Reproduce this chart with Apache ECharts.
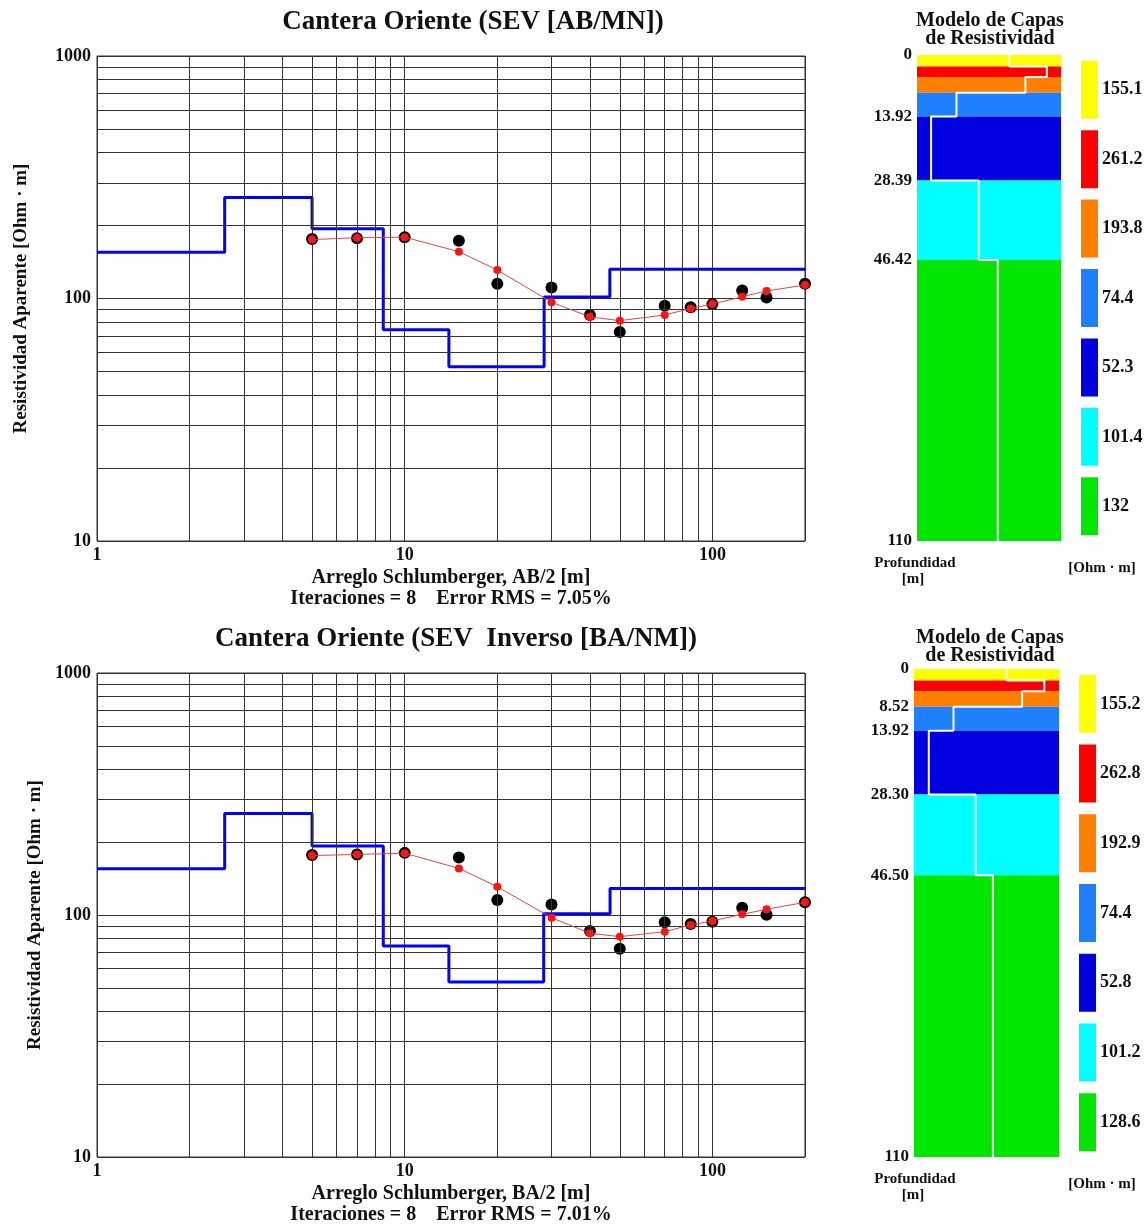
<!DOCTYPE html>
<html>
<head>
<meta charset="utf-8">
<script src="https://cdn.jsdelivr.net/npm/echarts@6/dist/echarts.min.js"></script>
<style>
  html, body { margin: 0; padding: 0; background: #fff; }
  #chart { width: 1146px; height: 1228px; }
</style>
</head>
<body>
<div id="chart"></div>
<script>
// AB/2 (BA/2) spacings [m]
const abHalf = [5, 7, 10, 15, 20, 30, 40, 50, 70, 85, 100, 125, 150, 200]

// apparent resistivity, field (black) and calculated (red)
const obsTop = [176, 177, 179, 173, 115, 111, 85.5, 72.8, 93.4, 92, 94.8, 108, 101, 115]
const calcTop = [175, 178, 179, 156, 131, 96.5, 84, 81, 85.5, 91, 94.8, 101.7, 107.4, 113.7]
const obsBottom = [177, 178, 180.6, 173, 115.3, 110.6, 85.9, 72.6, 93.3, 91.8, 93.8, 107.2, 100.3, 112.8]
const calcBottom = [176, 178, 180, 155.8, 130.8, 97.5, 84, 81.4, 85.3, 91, 94.5, 100.7, 105.6, 112.8]

// layer model
const resTop = [155.1, 261.2, 193.8, 74.4, 52.3, 101.4, 132]
const depthTop = [0, 2.6, 5.0, 8.52, 13.92, 28.39, 46.42, 110]
const resBottom = [155.2, 262.8, 192.9, 74.4, 52.8, 101.2, 128.6]
const depthBottom = [0, 2.6, 5.0, 8.52, 13.92, 28.30, 46.50, 110]
const depthLabelsTop = [0, 13.92, 28.39, 46.42, 110]
const depthLabelsBottom = [0, 8.52, 13.92, 28.30, 46.50, 110]

// minor grid lines of the log-log paper
const gridX = [2, 3, 4, 5, 6, 7, 8, 9, 20, 30, 40, 50, 60, 70, 80, 90]
const gridY = [20, 30, 40, 50, 60, 70, 80, 90, 200, 300, 400, 500, 600, 700, 800, 900]

const layerColors = ['#ffff00', '#ff0000', '#ff7f00', '#1e80ff', '#0000e0', '#00ffff', '#00e600']
const FONT = '"Liberation Serif", "DejaVu Serif", serif'
const INK = '#111'

function isDecade(v) {
  const l = Math.log10(v)
  return Math.abs(l - Math.round(l)) < 1e-6
}

// step curve of the model on the sounding chart
function modelSteps(depths, res, xMin, xMax) {
  const pts = []
  res.forEach((r, i) => {
    const from = i === 0 ? xMin : depths[i]
    const to = i === res.length - 1 ? xMax : depths[i + 1]
    pts.push([from, r], [to, r])
  })
  return pts
}

// white profile inside the layer column
function columnSteps(depths, res) {
  const pts = []
  res.forEach((r, i) => {
    pts.push([r, depths[i]], [r, depths[i + 1]])
  })
  return pts
}

const option = {
  animation: false,
  backgroundColor: '#fff',
  grid: [],
  xAxis: [],
  yAxis: [],
  series: [],
  graphic: []
}

function addPanel(p) {
  // sounding curve
  const g = option.grid.length
  option.grid.push({ left: 97, top: p.top, width: 708, height: p.height, show: true, borderColor: '#333', borderWidth: 1 })
  option.xAxis.push({
    type: 'log', logBase: 10, gridIndex: g, min: 1, max: 200,
    name: p.xName, nameLocation: 'middle', nameGap: 26,
    nameTextStyle: { fontFamily: FONT, fontWeight: 'bold', fontSize: 20, lineHeight: 21, color: INK },
    axisLine: { show: false }, axisTick: { show: false },
    splitLine: { show: true, lineStyle: { color: '#333', width: 1 } },
    axisLabel: {
      showMaxLabel: false, margin: 5, color: INK, fontFamily: FONT, fontWeight: 'bold', fontSize: 18,
      formatter: (v) => (isDecade(v) ? String(Math.round(v)) : '')
    }
  })
  option.yAxis.push({
    type: 'log', logBase: 10, gridIndex: g, min: 10, max: 1000,
    name: 'Resistividad Aparente [Ohm · m]', nameLocation: 'middle', nameGap: p.yNameGap,
    nameTextStyle: { fontFamily: FONT, fontWeight: 'bold', fontSize: 19, color: INK },
    axisLine: { show: false }, axisTick: { show: false },
    splitLine: { show: true, lineStyle: { color: '#333', width: 1 } },
    axisLabel: {
      margin: 6, color: INK, fontFamily: FONT, fontWeight: 'bold', fontSize: 18,
      padding: [0, 0, 10, 0],
      formatter: (v) => (isDecade(v) ? String(Math.round(v)) : '')
    }
  })
  option.series.push({
    type: 'line', xAxisIndex: g, yAxisIndex: g, data: [], silent: true, z: 1,
    markLine: {
      symbol: 'none', silent: true, animation: false,
      label: { show: false },
      lineStyle: { color: '#333', width: 1, type: 'solid' },
      emphasis: { disabled: true },
      data: gridX.map((v) => ({ xAxis: v })).concat(gridY.map((v) => ({ yAxis: v })))
    }
  })
  option.series.push({
    type: 'line', xAxisIndex: g, yAxisIndex: g, z: 3,
    data: modelSteps(p.depths, p.res, 1, 200),
    symbol: 'none', lineStyle: { color: '#0000ff', width: 3 }
  })
  option.series.push({
    type: 'scatter', xAxisIndex: g, yAxisIndex: g, z: 4,
    data: abHalf.map((x, i) => [x, p.obs[i]]),
    symbolSize: 12, itemStyle: { color: '#000', opacity: 1 }
  })
  option.series.push({
    type: 'line', xAxisIndex: g, yAxisIndex: g, z: 5,
    data: abHalf.map((x, i) => [x, p.calc[i]]),
    symbol: 'circle', symbolSize: 8, showSymbol: true,
    itemStyle: { color: '#ff1414', opacity: 1 },
    lineStyle: { color: '#e04848', width: 1 }
  })

  // layer column
  const c = option.grid.length
  option.grid.push({ left: p.colLeft, top: p.colTop, width: p.colWidth, height: p.colHeight })
  option.xAxis.push({ type: 'log', logBase: 10, gridIndex: c, min: p.resMin, max: p.resMax, show: false })
  option.yAxis.push({
    type: 'value', gridIndex: c, min: 0, max: 110, inverse: true,
    axisLine: { show: false }, axisTick: { show: false }, splitLine: { show: false },
    axisLabel: {
      customValues: p.depthLabels, margin: 5, color: INK,
      fontFamily: FONT, fontWeight: 'bold', fontSize: 17,
      formatter: (v) => (v === 0 || v === 110 ? String(v) : v.toFixed(2))
    }
  })
  option.series.push({
    type: 'custom', xAxisIndex: c, yAxisIndex: c, z: 2,
    data: p.res.map((r, i) => [r, p.depths[i], p.depths[i + 1], i]),
    encode: { x: 0, y: [1, 2] },
    renderItem: (params, api) => {
      const top = api.coord([100, api.value(1)])
      const bot = api.coord([100, api.value(2)])
      const cs = params.coordSys
      return {
        type: 'rect',
        shape: { x: cs.x, y: top[1], width: cs.width, height: bot[1] - top[1] },
        style: { fill: layerColors[api.value(3)] }
      }
    }
  })
  option.series.push({
    type: 'line', xAxisIndex: c, yAxisIndex: c, z: 3,
    data: columnSteps(p.depths, p.res),
    symbol: 'none', lineStyle: { color: '#fff', width: 2 }
  })

  // colour key
  const k = option.grid.length
  option.grid.push({ left: p.keyLeft, top: p.colTop, width: 17, height: p.colHeight })
  option.xAxis.push({ type: 'value', gridIndex: k, min: 0, max: 1, show: false })
  option.yAxis.push({ type: 'category', gridIndex: k, inverse: true, show: false, data: p.res.map(String) })
  option.series.push({
    type: 'bar', xAxisIndex: k, yAxisIndex: k, barWidth: 58,
    data: p.res.map((r, i) => ({ value: 1, itemStyle: { color: layerColors[i] } })),
    label: {
      show: true, position: 'right', distance: 4, formatter: '{b}',
      color: INK, fontFamily: FONT, fontWeight: 'bold', fontSize: 18
    }
  })

  // titles and captions
  const txt = (x, y, text, size) => ({
    type: 'text', x, y,
    style: { text, fill: INK, font: 'bold ' + size + 'px ' + FONT, align: 'center', verticalAlign: 'middle' }
  })
  option.graphic.push(
    txt(p.titleX, p.top - 34, p.title, 27),
    txt(990, p.top - 35, 'Modelo de Capas', 20),
    txt(990, p.top - 17, 'de Resistividad', 20),
    txt(915, p.colTop + p.colHeight + 22, 'Profundidad', 15),
    txt(913, p.colTop + p.colHeight + 38, '[m]', 15),
    txt(1102, p.colTop + p.colHeight + 27, '[Ohm · m]', 15)
  )
}

addPanel({
  top: 56, height: 485, yNameGap: 66,
  title: 'Cantera Oriente (SEV [AB/MN])', titleX: 473,
  xName: 'Arreglo Schlumberger, AB/2 [m]\nIteraciones = 8    Error RMS = 7.05%',
  obs: obsTop, calc: calcTop, res: resTop, depths: depthTop, depthLabels: depthLabelsTop,
  colLeft: 917, colTop: 55, colWidth: 144, colHeight: 486, resMin: 43, resMax: 318, keyLeft: 1081
})
addPanel({
  top: 673, height: 484, yNameGap: 46,
  title: 'Cantera Oriente (SEV  Inverso [BA/NM])', titleX: 456,
  xName: 'Arreglo Schlumberger, BA/2 [m]\nIteraciones = 8    Error RMS = 7.01%',
  obs: obsBottom, calc: calcBottom, res: resBottom, depths: depthBottom, depthLabels: depthLabelsBottom,
  colLeft: 914, colTop: 669, colWidth: 145, colHeight: 488, resMin: 43, resMax: 322, keyLeft: 1079
})

const mychart = echarts.init(document.getElementById('chart'))
mychart.setOption(option)
</script>
</body>
</html>
